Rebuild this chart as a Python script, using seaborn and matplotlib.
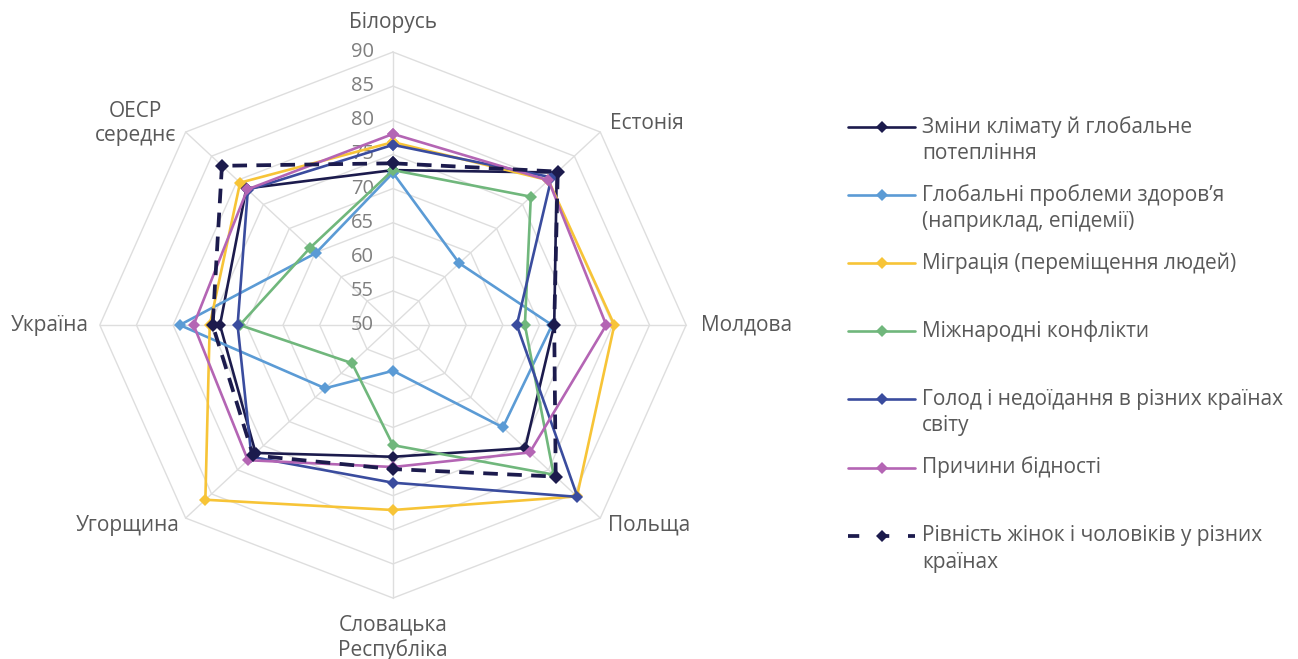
import numpy as np
import pandas as pd
import seaborn as sns
import matplotlib.pyplot as plt

# categories clockwise from top
categories = ['Білорусь', 'Естонія', 'Молдова', 'Польща',
              'Словацька\nРеспубліка', 'Угорщина', 'Україна', 'ОЕСР\nсереднє']

climate = [72.7, 81.6, 72.0, 75.5, 69.3, 76.5, 73.6, 78.3]
health = [72.3, 62.8, 71.7, 71.2, 56.7, 63.1, 79.1, 64.9]
migration = [76.8, 80.0, 80.2, 85.5, 77.1, 86.2, 75.0, 79.5]
conflicts = [72.7, 76.6, 68.0, 81.0, 67.6, 57.9, 70.9, 66.0]
hunger = [76.4, 80.6, 66.9, 85.6, 73.1, 77.3, 71.2, 78.0]
poverty = [78.0, 80.0, 79.1, 76.4, 70.8, 78.0, 77.2, 78.1]
equality = [73.7, 81.8, 72.0, 81.4, 71.1, 77.0, 74.6, 83.0]

series_labels = [
    'Зміни клімату й глобальне\nпотепління',
    'Глобальні проблеми здоров’я\n(наприклад, епідемії)',
    'Міграція (переміщення людей)',
    'Міжнародні конфлікти',
    'Голод і недоїдання в різних країнах\nсвіту',
    'Причини бідності',
    'Рівність жінок і чоловіків у різних\nкраїнах',
]
series_values = [climate, health, migration, conflicts, hunger, poverty, equality]
series_colors = ['#1c1b4d', '#5b9bd5', '#f7c437', '#70b77c', '#3a4c9e', '#b465b4', '#1c1b4d']
series_dashed = [False, False, False, False, False, False, True]

r_ticks = [50, 55, 60, 65, 70, 75, 80, 85, 90]
r_min = 50

sns.set_style('white')
plt.rcParams['font.family'] = ['Open Sans', 'DejaVu Sans']

fig = plt.figure(figsize=(12.98, 6.59), dpi=100)
ax = fig.add_axes([0.04865, 0.0407, 0.5082, 0.9321])
ax.set_xlim(-45, 45)
ax.set_ylim(-45, 45)
ax.axis('off')

n = len(categories)
theta = np.arange(n) * 2 * np.pi / n


def to_xy(vals):
    r = np.asarray(vals, dtype=float) - r_min
    r = np.append(r, r[0])
    t = np.append(theta, theta[0])
    return r * np.sin(t), r * np.cos(t)


# octagon grid
grid_c = '#dedede'
for tk in r_ticks[1:]:
    gx, gy = to_xy([tk] * n)
    ax.plot(gx, gy, color=grid_c, lw=1.0, zorder=0)
outer = r_ticks[-1] - r_min
for t in theta:
    ax.plot([0, outer * np.sin(t)], [0, outer * np.cos(t)], color=grid_c, lw=1.0, zorder=0)

# tick labels
for tk in r_ticks:
    ax.text(-2.6, tk - r_min, str(tk), ha='right', va='center',
            fontsize=14.5, color='#7f7f7f', zorder=1)

# series
for vals, col, dashed in zip(series_values, series_colors, series_dashed):
    x, y = to_xy(vals)
    df = pd.DataFrame({'x': x, 'y': y})
    if dashed:
        sns.lineplot(data=df, x='x', y='y', sort=False, estimator=None, ax=ax,
                     color=col, lw=2.7, linestyle=(0, (3.9, 2.5)),
                     marker='D', markersize=7, markeredgewidth=0, zorder=5)
    else:
        sns.lineplot(data=df, x='x', y='y', sort=False, estimator=None, ax=ax,
                     color=col, lw=1.9, marker='D', markersize=6.5,
                     markeredgewidth=0, zorder=3)
ax.set_xlim(-45, 45)
ax.set_ylim(-45, 45)
ax.set_xlabel('')
ax.set_ylabel('')

# category labels (x, y in data units around the chart)
label_pos = [(0, 44.4), (34.7, 29.6), (48.2, 0), (34.9, -29.3),
             (0, -45.8), (-36.2, -29.3), (-46.9, 0), (-35.1, 29.5)]
for lab, (lx, ly) in zip(categories, label_pos):
    ax.text(lx, ly, lab, ha='center', va='center', fontsize=15,
            color='#595959', linespacing=1.2, multialignment='center')

# legend drawn in figure pixel space
lax = fig.add_axes([0, 0, 1, 1])
lax.set_xlim(0, 1298)
lax.set_ylim(659, 0)
lax.axis('off')
y0, step = 127, 68.1
for i, (lab, col, dashed) in enumerate(zip(series_labels, series_colors, series_dashed)):
    yy = y0 + i * step
    if dashed:
        lax.plot([848, 915], [yy, yy], color=col, lw=2.7, linestyle=(0, (3.0, 5.0)))
    else:
        lax.plot([848, 915], [yy, yy], color=col, lw=1.9)
    lax.plot([881.5], [yy], marker='D', color=col, markersize=6.5, markeredgewidth=0)
    for k, line in enumerate(lab.split('\n')):
        lax.text(922, yy + k * 26.5, line, ha='left', va='center',
                 fontsize=15, color='#595959')

fig.savefig('out.png', dpi=100)
